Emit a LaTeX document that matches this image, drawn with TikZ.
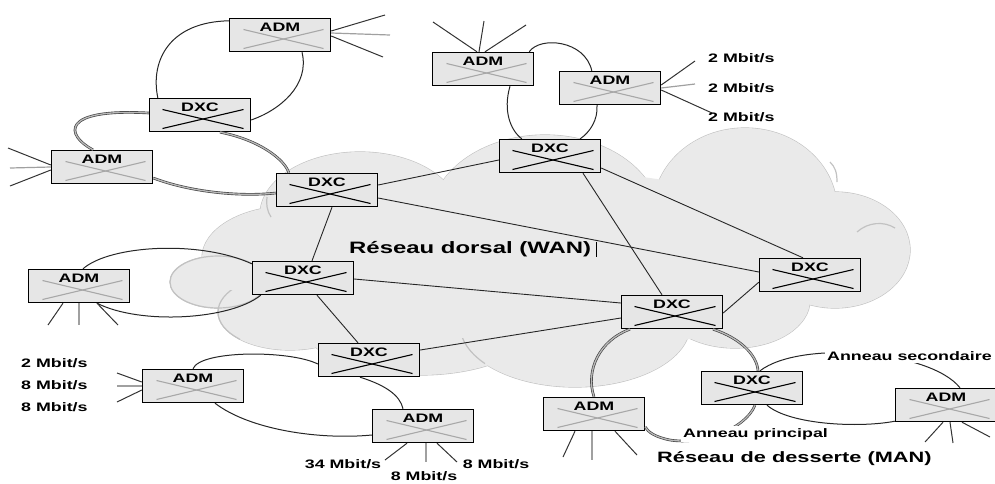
\documentclass[tikz,border=0pt]{standalone}
\usepackage{fontspec}
\newfontfamily\labfont{Liberation Sans}[FakeStretch=1.45]
\usetikzlibrary{calc}
\definecolor{boxfill}{HTML}{E6E6E6}
\definecolor{cloudfill}{HTML}{EAEAEA}
\definecolor{cloudline}{HTML}{C2C2C2}
\definecolor{crossgray}{HTML}{A8A8A8}
\definecolor{spokegray}{HTML}{A0A0A0}
\tikzset{
  netbox/.style={draw=black, line width=1.4pt, fill=boxfill, minimum width=101pt,
    inner xsep=0pt, inner ysep=3pt, text height=9.5pt, text depth=17.5pt,
    font=\labfont\bfseries\fontsize{12.3}{13}\selectfont},
  dxc/.style={netbox, path picture={
    \draw[black, line width=1.1pt] ($(path picture bounding box.north west)+(13pt,-11pt)$) -- ($(path picture bounding box.south east)+(-7pt,3pt)$);
    \draw[black, line width=1.1pt] ($(path picture bounding box.south west)+(13pt,3pt)$) -- ($(path picture bounding box.north east)+(-7pt,-11pt)$);}},
  adm/.style={netbox, path picture={
    \draw[crossgray, line width=1.1pt] ($(path picture bounding box.north west)+(14pt,-11pt)$) -- ($(path picture bounding box.south east)+(-7pt,3pt)$);
    \draw[crossgray, line width=1.1pt] ($(path picture bounding box.south west)+(14pt,3pt)$) -- ($(path picture bounding box.north east)+(-7pt,-11pt)$);}},
  link/.style={draw=black!85, line width=0.9pt},
  ring/.style={draw=black!85, line width=1pt},
  ringd/.style={draw=black!75, line width=0.65pt, double=gray!55, double distance=1.3pt},
  spoke/.style={draw=black!80, line width=1pt},
  spokeg/.style={draw=spokegray, line width=1.2pt},
  txt/.style={font=\labfont\bfseries\fontsize{12.3}{13}\selectfont, inner sep=1pt},
  bigtxt/.style={font=\labfont\bfseries\fontsize{16.5}{18}\selectfont, inner sep=1pt},
  mantxt/.style={font=\labfont\bfseries\fontsize{15}{17}\selectfont, inner sep=1pt},
  cloudlobe/.style={draw=cloudline, line width=1.2pt, fill=cloudfill},
  cloudarc/.style={draw=cloudline, line width=1.2pt},
}
\begin{document}
\begin{tikzpicture}[x=1pt,y=-1pt]
\useasboundingbox (0,0) rectangle (995,483);
% cloud
\foreach \cx/\cy/\rx/\ry in {360/215/100/63, 545/220/115/85, 745/210/92/82, 835/250/75/58,
   735/300/75/48, 575/325/115/62, 420/320/120/55, 290/258/88/52, 218/282/48/26, 290/312/72/38}
  \path[cloudlobe] (\cx,\cy) ellipse [x radius=\rx pt, y radius=\ry pt];
\foreach \cx/\cy/\rx/\ry in {360/215/100/63, 545/220/115/85, 745/210/92/82, 835/250/75/58,
   735/300/75/48, 575/325/115/62, 420/320/120/55, 290/258/88/52, 218/282/48/26, 290/312/72/38, 560/262/250/90}
  \fill[cloudfill] (\cx,\cy) ellipse [x radius=\rx pt, y radius=\ry pt];
\draw[cloudarc] (218,282) ellipse [x radius=48pt, y radius=26pt];
\begin{scope}
  \clip (205,290) rectangle (240,340);
  \draw[cloudarc] (290,312) ellipse [x radius=72pt, y radius=38pt];
\end{scope}
\begin{scope}
  \clip (455,338) rectangle (485,374);
  \draw[cloudarc] (575,325) ellipse [x radius=115pt, y radius=62pt];
\end{scope}
\draw[cloudarc] (830,162) .. controls (835,167) and (837,172) .. (837,182);
\draw[cloudarc] (857,232) .. controls (868,222) and (884,221) .. (895,228);
\draw[cloudarc] (267,197) .. controls (266,204) and (267,211) .. (271,217);

% nodes
\node[adm] (a1) at (280,35) {ADM};
\node[dxc] (d2) at (200,115) {DXC};
\node[adm] (a3) at (102,167) {ADM};
\node[dxc] (d4) at (327,190) {DXC};
\node[adm] (a5) at (483,69) {ADM};
\node[adm] (a6) at (610,88) {ADM};
\node[dxc] (d7) at (550,156) {DXC};
\node[adm] (a8) at (79,286) {ADM};
\node[dxc] (d9) at (303,278) {DXC};
\node[dxc] (d10) at (810,275) {DXC};
\node[dxc] (d11) at (672,312) {DXC};
\node[dxc] (d12) at (369,360) {DXC};
\node[adm] (a13) at (193,386) {ADM};
\node[adm] (a14) at (423,426) {ADM};
\node[adm] (a15) at (594,414) {ADM};
\node[dxc] (d16) at (752,388) {DXC};
\node[adm] (a17) at (946,405) {ADM};

% backbone links
\draw[link] ($(d4.east)+(0,-5)$) -- ($(d7.west)+(0,4)$);
\draw[link] ($(d4.east)+(0,8)$) -- ($(d10.west)+(0,-3)$);
\draw[link] ($(d4.south)+(5,0)$) -- ($(d9.north)+(9,0)$);
\draw[link] ($(d7.south)+(33,0)$) -- ($(d11.north)+(-10,0)$);
\draw[link] ($(d7.east)+(0,12)$) -- ($(d10.north)+(-7,0)$);
\draw[link] ($(d9.east)+(0,1)$) -- ($(d11.west)+(0,-9)$);
\draw[link] ($(d12.east)+(0,-10)$) -- ($(d11.west)+(0,6)$);
\draw[link] ($(d9.south)+(14,0)$) -- ($(d12.north)+(-11,0)$);
\draw[link] ($(d11.east)+(0,1)$) -- ($(d10.south west)+(0,-10)$);

% ring a1-d2
\draw[ring] ($(a1.north west)+(0,3)$) .. controls (170,22) and (150,60) .. ($(d2.north west)+(9,0)$);
\draw[ring] ($(a1.south)+(22,0)$) .. controls (310,85) and (280,110) .. ($(d2.east)+(0,5)$);
% double ring d2-a3-d4
\draw[ringd] ($(d2.west)+(0,-2)$) .. controls (60,108) and (65,135) .. ($(a3.north)+(-9,0)$);
\draw[ringd] ($(a3.east)+(0,11)$) .. controls (190,192) and (240,197) .. ($(d4.west)+(0,3)$);
\draw[ringd] ($(d2.south)+(20,0)$) .. controls (260,140) and (285,160) .. ($(d4.north west)+(13,0)$);
% ring a5-a6-d7
\draw[ring] ($(a5.north east)+(-5,0)$) .. controls (540,36) and (585,40) .. ($(a6.north west)+(33,0)$);
\draw[ring] ($(a5.south)+(27,0)$) .. controls (503,110) and (510,130) .. ($(d7.north west)+(23,0)$);
\draw[ring] ($(a6.south)+(-13,0)$) .. controls (598,120) and (590,132) .. ($(d7.north east)+(-21,0)$);
% ring a8-d9
\draw[ring] ($(a8.north)+(4,0)$) .. controls (110,245) and (200,240) .. ($(d9.north west)+(0,3)$);
\draw[ring] ($(a8.south)+(18,0)$) .. controls (140,325) and (230,320) .. ($(d9.south west)+(9,0)$);
% ring a13-d12-a14
\draw[ring] (a13.north) .. controls (200,350) and (290,350) .. ($(d12.west)+(0,4)$);
\draw[ring] ($(a13.south)+(22,0)$) .. controls (250,430) and (320,440) .. ($(a14.west)+(0,9)$);
\draw[ring] ($(d12.south)+(-9,0)$) .. controls (385,385) and (400,395) .. ($(a14.north)+(-20,0)$);
% primary ring (MAN)
\draw[ringd] ($(d11.south)+(-42,0)$) .. controls (600,340) and (585,370) .. (a15.north);
\draw[ringd] ($(d11.south)+(41,0)$) .. controls (740,338) and (757,355) .. ($(d16.north)+(6,0)$);
\draw[ringd] ($(d16.south)+(3,0)$) .. controls (745,430) and (700,445) .. (670,440) .. controls (655,437) and (648,432) .. ($(a15.east)+(0,13)$);
% secondary ring
\draw[ring] ($(d16.north)+(8,0)$) .. controls (800,340) and (930,350) .. ($(a17.north)+(14,0)$);
\draw[ring] ($(d16.south)+(15,0)$) .. controls (790,425) and (860,428) .. ($(a17.south west)+(0,-1)$);

% spokes
\draw[spoke] ($(a1.east)+(0,-4)$) -- (385,15);
\draw[spokeg] ($(a1.east)+(0,-2)$) -- (390,35);
\draw[spoke] ($(a1.east)+(0,1)$) -- (383,57);
\draw[spoke] ($(a3.west)+(0,-2)$) -- (8,148);
\draw[spokeg] (a3.west) -- (10,168);
\draw[spoke] ($(a3.west)+(0,3)$) -- (10,186);
\draw[spoke] ($(a5.north)+(-6,0)$) -- (433,22);
\draw[spoke] ($(a5.north)+(-4,0)$) -- (484,21);
\draw[spoke] ($(a5.north)+(2,0)$) -- (526,25);
\draw[spoke] ($(a6.east)+(0,-3)$) -- (695,61);
\draw[spokeg] (a6.east) -- (695,84);
\draw[spoke] ($(a6.east)+(0,2)$) -- (712,113);
\draw[spoke] ($(a8.south)+(-16,0)$) -- (48,325);
\draw[spokeg] (a8.south) -- (79,325);
\draw[spoke] ($(a8.south)+(18,0)$) -- (118,325);
\draw[spoke] ($(a13.west)+(0,-4)$) -- (117,373);
\draw[spokeg] (a13.west) -- (117,386);
\draw[spoke] ($(a13.west)+(0,4)$) -- (117,402);
\draw[spoke] ($(a14.south)+(-16,0)$) -- (385,460);
\draw[spokeg] ($(a14.south)+(3,0)$) -- (426,462);
\draw[spoke] ($(a14.south)+(14,0)$) -- (457,462);
\draw[spoke] ($(a15.south)+(-19,0)$) -- (563,457);
\draw[spokeg] ($(a15.south)+(-2,0)$) -- (592,460);
\draw[spoke] ($(a15.south)+(21,0)$) -- (637,455);
\draw[spoke] ($(a17.south)+(-3,0)$) -- (925,442);
\draw[spoke] ($(a17.south)+(4,0)$) -- (953,443);
\draw[spoke] ($(a17.south)+(16,0)$) -- (990,437);

% texts
\node[txt, anchor=west] (r1) at (707,58) {2 Mbit/s};
\node[txt, anchor=west] (r2) at (707,88) {2 Mbit/s};
\node[txt, anchor=west] (r3) at (707,117) {2 Mbit/s};
\node[txt, anchor=west] (l1) at (20,363) {2 Mbit/s};
\node[txt, anchor=west] (l2) at (20,385) {8 Mbit/s};
\node[txt, anchor=west] (l3) at (20,407) {8 Mbit/s};
\node[txt] (b1) at (343,464) {34 Mbit/s};
\node[txt] (b2) at (496,464) {8 Mbit/s};
\node[txt] (b3) at (424,476) {8 Mbit/s};
\node[bigtxt, anchor=west] (wan) at (348,249) {Réseau dorsal (WAN)};
\draw[black, line width=0.8pt] ($(wan.east)+(4,-7)$) -- ($(wan.east)+(4,8)$);
\node[mantxt, anchor=west] (man) at (656,459) {Réseau de desserte (MAN)};
\node[txt, anchor=west, fill=white, inner sep=2pt] (prin) at (681,434) {Anneau principal};
\node[txt, anchor=west, fill=white, inner sep=2pt] (sec) at (825,356) {Anneau secondaire};
\end{tikzpicture}
\end{document}
